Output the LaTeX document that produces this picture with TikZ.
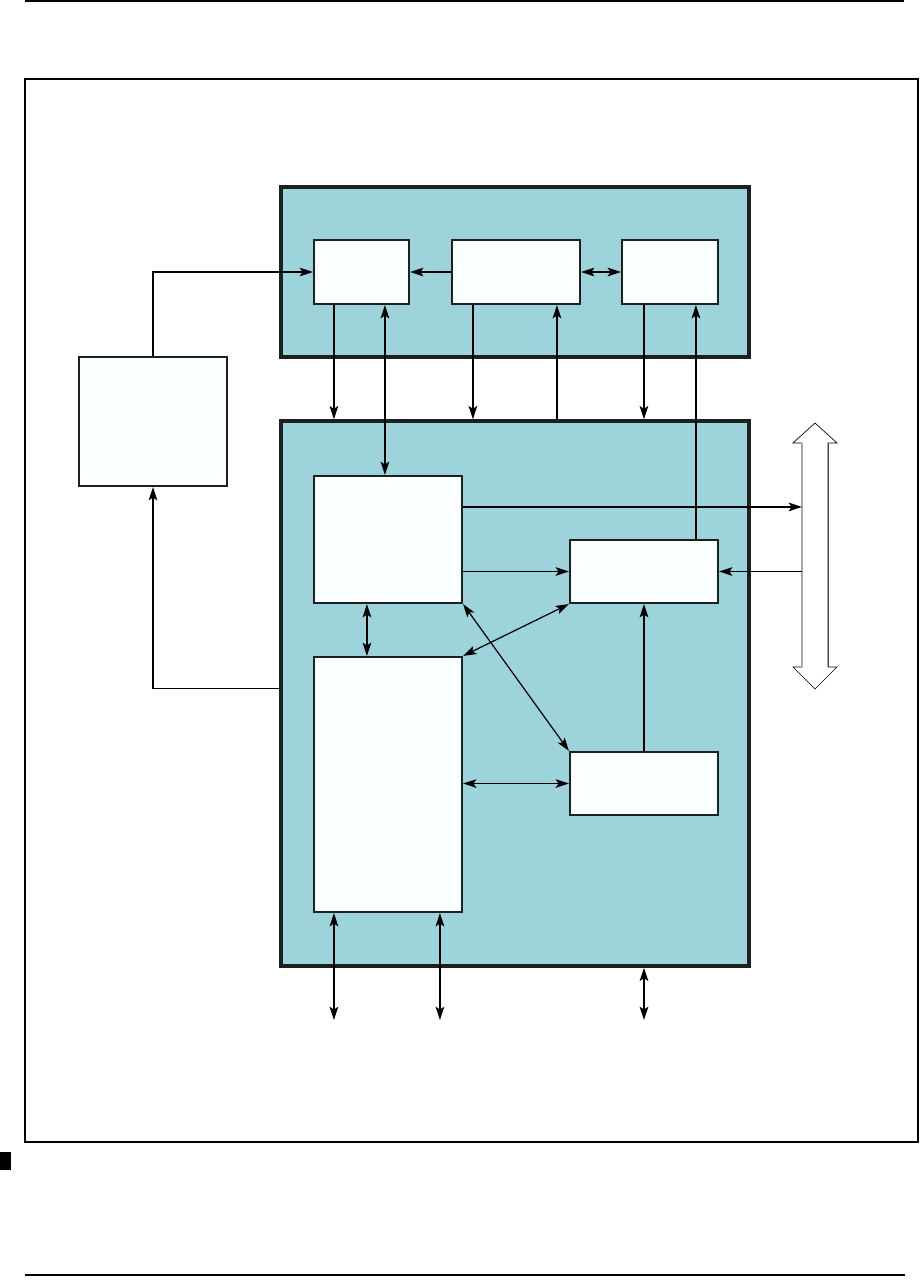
\documentclass[tikz,border=0pt]{standalone}
\usetikzlibrary{arrows.meta,fit,calc}
\definecolor{teal}{RGB}{157,211,219}
\definecolor{edge}{RGB}{30,32,32}
\definecolor{whitebox}{RGB}{250,254,255}
\begin{document}
\begin{tikzpicture}[x=0.75pt,y=-0.75pt,
  outerbox/.style={draw=edge,fill=teal,line width=2.6pt,inner sep=0pt},
  innerbox/.style={draw=edge,fill=whitebox,line width=1.6pt,inner sep=0pt},
  conn/.style={line width=0.9pt,draw=black},
  one/.style={conn,-{Stealth[length=10pt,width=6.5pt,inset=2.2pt]}},
  two/.style={conn,{Stealth[length=10pt,width=6.5pt,inset=2.2pt]}-{Stealth[length=10pt,width=6.5pt,inset=2.2pt]}}]
\useasboundingbox (0,0) rectangle (921,1286);
% page rules and frame
\draw[line width=1.1pt] (25,1) -- (904,1);
\draw[line width=1.1pt] (25,1275) -- (905,1275);
\draw[line width=0.8pt] (25,79) rectangle (918,1142);
\fill[black] (0,1152) rectangle (11,1170);
% outer boxes
\node[outerbox,fit={(281,187) (749,357)}] (A) {};
\node[outerbox,fit={(281,421) (749,966)}] (B) {};
% inner boxes
\node[innerbox,fit={(314,240) (409,304)}] (A1) {};
\node[innerbox,fit={(452,240) (580,304)}] (A2) {};
\node[innerbox,fit={(622,240) (718,304)}] (A3) {};
\node[innerbox,fit={(79,357) (227,486)}] (L) {};
\node[innerbox,fit={(314,476) (462,603)}] (B1) {};
\node[innerbox,fit={(570,540) (718,603)}] (B2) {};
\node[innerbox,fit={(314,657) (462,912)}] (B3) {};
\node[innerbox,fit={(570,752) (718,815)}] (B4) {};
% bus arrow
\coordinate (bus) at (802,555);
\coordinate (bot) at (0,1020);
\filldraw[fill=white,draw=black,line width=0.5pt]
  (815,423) -- (837,443) -- (828,443) -- (828,667) -- (837,667) -- (815,689)
  -- (793,667) -- (802,667) -- (802,443) -- (793,443) -- cycle;
\draw[gray!70,line width=1.3pt] (802,443) -- (802,667);
\draw[gray!60!black,line width=0.7pt] (828,443) -- (828,667);
% connectors in top box
\draw[one] (A2.west) -- (A1.east);
\draw[two] (A2.east) -- (A3.west);
\draw[one] (L.north) |- (A1.west);
\draw[one] ($(B.west)+(0,-5)$) -| (L.south);
% between A and B
\draw[one] ($(A1.south west)+(21,0)$) coordinate (t1) -- (t1 |- B.north);
\draw[two] ($(A1.south west)+(72,0)$) coordinate (t2) -- (t2 |- B1.north);
\draw[one] ($(A2.south west)+(22,0)$) coordinate (t3) -- (t3 |- B.north);
\path ($(A2.south west)+(106,0)$) coordinate (t4);
\draw[one] (t4 |- B.north) -- (t4);
\draw[one] ($(A3.south west)+(23,0)$) coordinate (t5) -- (t5 |- B.north);
\path ($(A3.south west)+(75,0)$) coordinate (t6);
\draw[one] (t6 |- B2.north) -- (t6);
% inside B
\draw[one] ($(B1.north east)+(0,32)$) coordinate (t7) -- (t7 -| bus);
\draw[one] (bus |- B2.east) -- (B2.east);
\draw[one] (B1.east |- B2.west) -- (B2.west);
\draw[two] ($(B1.south west)+(54,0)$) coordinate (t8) -- (t8 |- B3.north);
\draw[two] (B3.north east) -- (B2.south west);
\draw[two] (B1.south east) -- (B4.north west);
\draw[two] (B3.east |- B4.west) -- (B4.west);
\draw[one] (B4.north) -- (B2.south);
% below B
\draw[two] ($(B3.south west)+(21,0)$) coordinate (t9) -- (t9 |- bot);
\draw[two] ($(B3.south west)+(127,0)$) coordinate (t10) -- (t10 |- bot);
\draw[two] (B4.south |- B.south) -- (B4.south |- bot);
\end{tikzpicture}
\end{document}
